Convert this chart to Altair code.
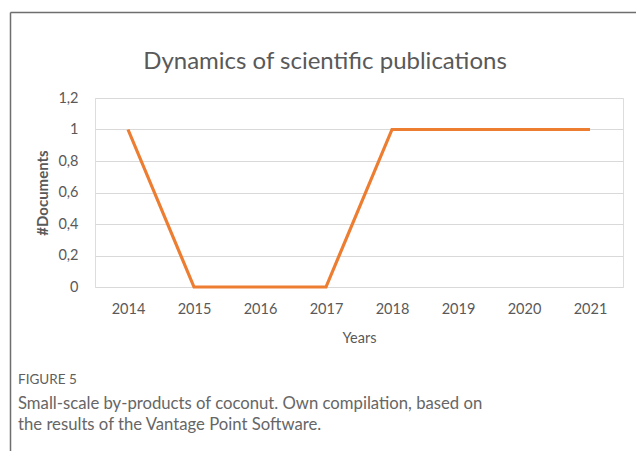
import altair as alt
import pandas as pd

years = ["2014", "2015", "2016", "2017", "2018", "2019", "2020", "2021"]
documents = [1, 0, 0, 0, 1, 1, 1, 1]
y_ticks = [0, 0.2, 0.4, 0.6, 0.8, 1, 1.2]

chart_title = "Dynamics of scientific publications"
fig_label = "FIGURE 5"
caption_lines = [
    "Small-scale by-products of coconut. Own compilation, based on",
    "the results of the Vantage Point Software.",
]

df = pd.DataFrame({"Year": years, "Docs": documents})

FONT = "Lato"
GRAY = "#595959"

# plot area in image: x 95..623, y 98..287
X0, Y0 = 95 - 8, 98 - 8
W, H = 528, 189
TOTAL_W, TOTAL_H = 628, 443

line = alt.Chart(df).mark_line(color="#ED7D31", strokeWidth=3.2).encode(
    x=alt.X("Year:O", sort=years,
            scale=alt.Scale(type="point", padding=0.5),
            axis=alt.Axis(title="Years", labelAngle=0, grid=False, domain=False,
                          ticks=False, labelPadding=15, labelFontSize=14.5,
                          labelColor=GRAY, labelFont=FONT,
                          titleFont=FONT, titleFontSize=14.5, titleColor=GRAY,
                          titleFontWeight="normal", titlePadding=16)),
    y=alt.Y("Docs:Q", scale=alt.Scale(domain=[0, 1.2], nice=False),
            axis=alt.Axis(title="#Documents", values=y_ticks,
                          labelExpr="replace(toString(datum.value), '.', ',')",
                          grid=True, gridColor="#d9d9d9", gridWidth=1,
                          domain=False, ticks=False, labelPadding=17,
                          labelFontSize=14.5, labelColor=GRAY, labelFont=FONT,
                          titleFont=FONT, titleFontSize=15, titleColor=GRAY,
                          titleFontWeight="bold", titlePadding=7)),
)

def txt(s, x, y, size, weight="normal", color=GRAY, align="left"):
    return alt.Chart(pd.DataFrame({"t": [s]})).mark_text(
        font=FONT, fontSize=size, fontWeight=weight, color=color,
        align=align, baseline="alphabetic"
    ).encode(text="t:N", x=alt.value(x - 95), y=alt.value(y - 98))

title_t = txt(chart_title, 325, 69, 24, align="center")
fig_t = txt(fig_label, 18, 384, 13.5, color="#5e5e5e")
cap1 = txt(caption_lines[0], 18, 409, 16.7, color="#666666")
cap2 = txt(caption_lines[1], 18, 430, 16.7, color="#666666")

border_left = alt.Chart(pd.DataFrame({"a": [0]})).mark_rule(color="#6e6e6e", strokeWidth=1.5).encode(
    x=alt.value(10.5 - 95), y=alt.value(12.5 - 98), y2=alt.value(451 - 98))
border_top = alt.Chart(pd.DataFrame({"a": [0]})).mark_rule(color="#6e6e6e", strokeWidth=1.5).encode(
    x=alt.value(10.5 - 95), x2=alt.value(636 - 95), y=alt.value(12.5 - 98))

chart = alt.layer(line, title_t, fig_t, cap1, cap2, border_left, border_top).properties(
    width=W, height=H,
    autosize=alt.AutoSizeParams(type="none"),
    padding={"left": X0, "top": Y0, "right": TOTAL_W - X0 - W, "bottom": TOTAL_H - Y0 - H},
).configure_view(stroke=None).configure(background="white")

chart.save("out.html", embed_options={"renderer": "svg", "actions": False})
